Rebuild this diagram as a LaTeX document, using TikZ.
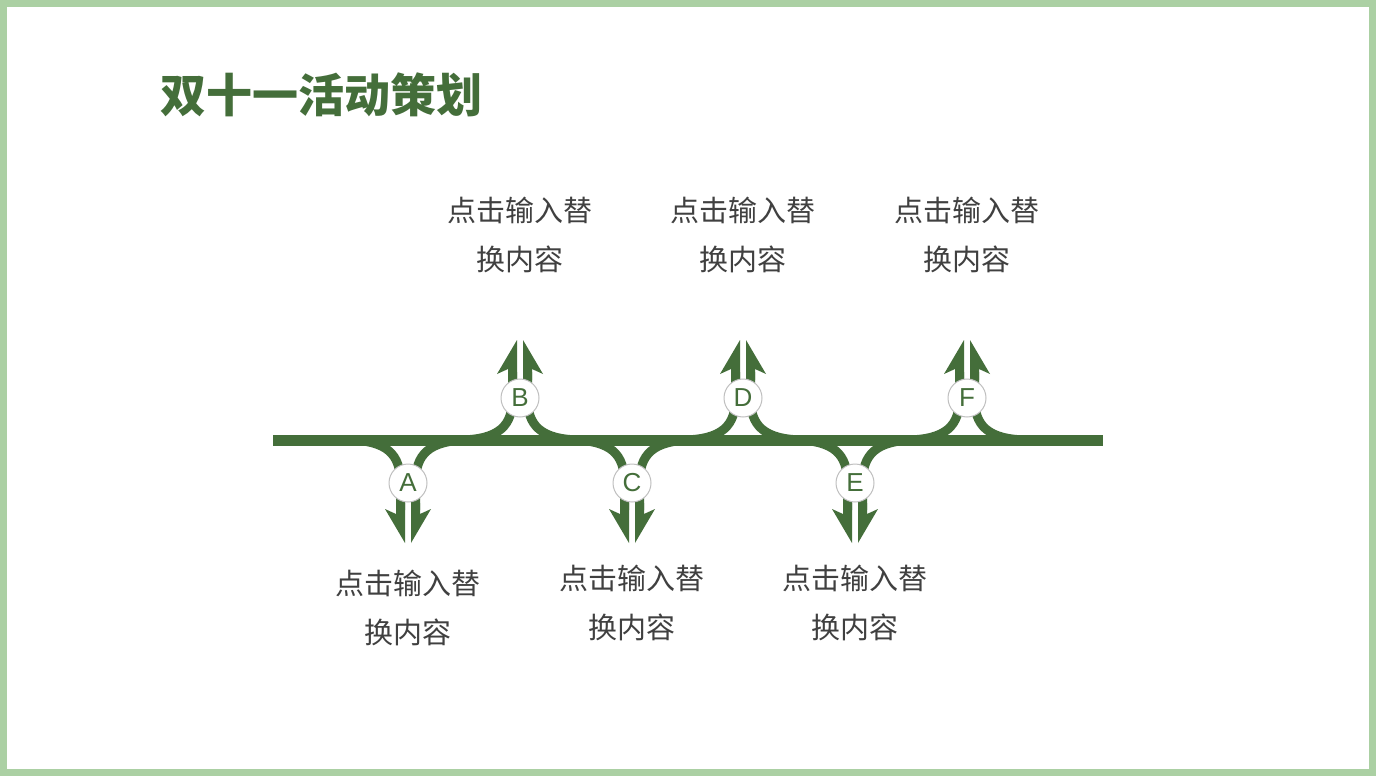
\documentclass[tikz,border=0pt]{standalone}
\usepackage{fontspec}
\newfontfamily\cjk{Noto Sans CJK SC}
\setmainfont{Liberation Sans}
\definecolor{gr}{HTML}{446E3A}
\definecolor{fr}{HTML}{ABD0A3}
\definecolor{tx}{HTML}{404040}
\begin{document}
\begin{tikzpicture}[x=1pt,y=-1pt,
  ramp/.style={gr,line width=9pt},
  badge/.style={circle,draw=black!25,line width=1pt,fill=white,minimum size=38pt,inner sep=0pt,text=gr,font=\fontsize{26}{26}\selectfont},
  lbl/.style={text=tx,font=\cjk\fontsize{29}{49}\selectfont,align=center}]
\useasboundingbox (0,0) rectangle (1376,776);
\fill[fr] (0,0) rectangle (1376,776);
\fill[white] (7,7) rectangle (1369,769);
\node[anchor=west,text=gr,font=\cjk\bfseries\fontsize{46}{46}\selectfont] (title) at (157,95) {双十一活动策划};
\draw[gr,line width=11pt] (273,440) -- (1103,440);
% up branches
\foreach \c/\n in {520/B,743/D,967/F}{
  \draw[ramp] (\c-62,440) .. controls (\c-20,440) and (\c-7.5,425) .. (\c-7.5,398) -- (\c-7.5,372);
  \draw[ramp] (\c+62,440) .. controls (\c+20,440) and (\c+7.5,425) .. (\c+7.5,398) -- (\c+7.5,372);
  \fill[gr] (\c-3,340) -- (\c-23,374) -- (\c-12,369) -- (\c-12,380) -- (\c-3,380) -- cycle;
  \fill[gr] (\c+3,340) -- (\c+23,374) -- (\c+12,369) -- (\c+12,380) -- (\c+3,380) -- cycle;
  \node[badge] (b\n) at (\c,398) {\n};
}
\foreach \c/\n in {408/A,632/C,855/E}{
  \draw[ramp] (\c-62,440) .. controls (\c-20,440) and (\c-7.5,455) .. (\c-7.5,483) -- (\c-7.5,510);
  \draw[ramp] (\c+62,440) .. controls (\c+20,440) and (\c+7.5,455) .. (\c+7.5,483) -- (\c+7.5,510);
  \fill[gr] (\c-3,543) -- (\c-23,509) -- (\c-12,514) -- (\c-12,503) -- (\c-3,503) -- cycle;
  \fill[gr] (\c+3,543) -- (\c+23,509) -- (\c+12,514) -- (\c+12,503) -- (\c+3,503) -- cycle;
  \node[badge] (b\n) at (\c,483) {\n};
}
\node[lbl] (tB) at (520,235) {点击输入替\\换内容};
\node[lbl] (tD) at (743,235) {点击输入替\\换内容};
\node[lbl] (tF) at (967,235) {点击输入替\\换内容};
\node[lbl] (tA) at (408,608) {点击输入替\\换内容};
\node[lbl] (tC) at (632,603) {点击输入替\\换内容};
\node[lbl] (tE) at (855,603) {点击输入替\\换内容};
\end{tikzpicture}
\end{document}
